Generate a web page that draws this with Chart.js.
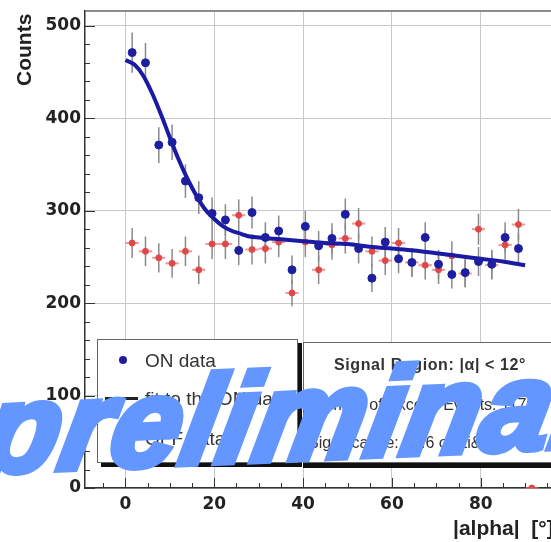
<!DOCTYPE html>
<html lang="en">
<head>
    <meta charset="UTF-8">
    <title>alpha plot</title>
    <script src="https://cdn.jsdelivr.net/npm/chart.js@4.4.1/dist/chart.umd.min.js"></script>
    <style>
        body {
            margin: 0;
            background: white;
            font-family: "Liberation Sans", Arial, sans-serif;
        }

        .wrap {
            position: relative;
            width: 551px;
            height: 542px;
            overflow: hidden;
        }

        canvas { position: absolute; left: 0; top: 0; }

        .axis-title {
            position: absolute;
            font: bold 21px "Liberation Sans", Arial, sans-serif;
            line-height: 21px;
            color: #222;
            white-space: nowrap;
        }

        .box {
            position: absolute;
            background: white;
            border: 1px solid #666;
            color: #333;
            white-space: nowrap;
        }

        .row {
            position: absolute;
            font: 19px "Liberation Sans", Arial, sans-serif;
            line-height: 19px;
        }

        .prelim {
            position: absolute;
            left: -22px;
            top: 368px;
            font: bold italic 124px "Liberation Sans", Arial, sans-serif;
            line-height: 124px;
            letter-spacing: 2px;
            color: rgb(99, 150, 255);
            -webkit-text-stroke: 7px rgb(99, 150, 255);
            white-space: nowrap;
            transform-origin: 0 105px;
            transform: rotate(-2.5deg) skewX(-13deg);
        }
    </style>
</head>
<body>
<div class="wrap">
    <!-- canvas a bit wider than the window: the plot frame runs off the right edge -->
    <canvas id="alphaChart" width="556" height="542"></canvas>

    <div class="axis-title" style="left:0;top:0;transform-origin:0 0;transform:translate(13px,86px) rotate(-90deg);">Counts</div>
    <div class="axis-title" style="left:453px;top:517px;">|alpha|&nbsp;&nbsp;[°]</div>

    <div class="box" style="left:97px;top:339px;width:199px;height:122px;box-shadow:4px 4px 0 #111;">
        <div style="position:absolute;left:21px;top:16px;width:8px;height:8px;border-radius:50%;background:#1e1ea0;"></div>
        <div class="row" style="left:47px;top:11px;">ON data</div>
        <div style="position:absolute;left:7px;top:57px;width:33px;height:3px;background:#222;"></div>
        <div class="row" style="left:47px;top:49px;">fit to the ON data</div>
        <div style="position:absolute;left:22px;top:94px;width:7px;height:7px;border-radius:50%;background:#e04848;"></div>
        <div class="row" style="left:47px;top:89px;">OFF data</div>
    </div>

    <div class="box" style="left:303px;top:342px;width:270px;height:119px;box-shadow:0 5px 0 #111;">
        <div class="row" style="left:30px;top:12px;font-weight:bold;font-size:16px;letter-spacing:0.6px;">Signal Region: |α| &lt; 12°</div>
        <div class="row" style="left:4px;top:52px;font-size:16px;">Number of Excess Events: 1170 ± 95</div>
        <div class="row" style="left:4px;top:90px;font-size:16px;">Significance: 12.6 σ (Li&amp;Ma)</div>
    </div>

    <div class="prelim">preliminary</div>
</div>

<script>
    // bin centres of |alpha| [deg]
    const alphaBins = [1.5, 4.5, 7.5, 10.5, 13.5, 16.5, 19.5, 22.5, 25.5, 28.5,
                       31.5, 34.5, 37.5, 40.5, 43.5, 46.5, 49.5, 52.5, 55.5, 58.5,
                       61.5, 64.5, 67.5, 70.5, 73.5, 76.5, 79.5, 82.5, 85.5, 88.5, 91.5];

    const onCounts = [471, 460, 371, 374, 332, 314, 297, 290, 257, 298,
                      271, 278, 236, 283, 262, 270, 296, 259, 227, 266,
                      248, 244, 271, 242, 231, 233, 245, 242, 271, 259];
    const onErrors = [21.7, 21.4, 19.3, 19.3, 18.2, 17.7, 17.2, 17.0, 16.0, 17.3,
                      16.5, 16.7, 15.4, 16.8, 16.2, 16.4, 17.2, 16.1, 15.1, 16.3,
                      15.7, 15.6, 16.5, 15.6, 15.2, 15.3, 15.7, 15.6, 16.5, 16.1];

    const offCounts = [265, 256, 249, 243, 256, 236, 264, 264, 295, 258,
                       259, 266, 211, 266, 236, 263, 270, 286, 256, 246,
                       265, 244, 241, 236, 251, 232, 280, 241, 263, 285, 0];
    const offErrors = [16.3, 16.0, 15.8, 15.6, 16.0, 15.4, 16.2, 16.2, 17.2, 16.1,
                       16.1, 16.3, 14.5, 16.3, 15.4, 16.2, 16.4, 16.9, 16.0, 15.7,
                       16.3, 15.6, 15.5, 15.4, 15.8, 15.2, 16.7, 15.5, 16.2, 16.9, 1.0];

    // fit curve
    const fitAlpha = [0, 2, 4, 6, 8, 10, 12, 14, 16, 18, 20, 22, 24, 26, 28, 30,
                      35, 40, 45, 50, 55, 60, 65, 70, 75, 80, 85, 90];
    const fitCounts = [463, 458, 446, 427, 404, 379, 355, 334, 316, 301, 291, 283, 278, 275, 272, 271,
                       269, 267, 265, 264, 261, 259, 257, 254, 251, 248, 245, 241];

    const xTickVals = [0, 20, 40, 60, 80];
    const yTickVals = [0, 100, 200, 300, 400, 500];

    const halfBin = 1.5;
    const blue = '#1e1ea0';
    const red = '#e04848';

    function toPoints(xs, ys) {
        return ys.map((y, i) => ({ x: xs[i], y: y }));
    }

    // vertical (and horizontal) error bars, under the markers
    const errorBars = {
        id: 'errorBars',
        beforeDatasetsDraw(chart) {
            const ctx = chart.ctx;
            const xs = chart.scales.x, ys = chart.scales.y;
            const area = chart.chartArea;
            ctx.save();
            ctx.beginPath();
            ctx.rect(area.left, area.top, area.right - area.left, area.bottom - area.top + 2);
            ctx.clip();

            function draw(counts, errs, hColor) {
                counts.forEach((c, i) => {
                    const px = xs.getPixelForValue(alphaBins[i]);
                    ctx.strokeStyle = '#8a8a8a';
                    ctx.lineWidth = 1.5;
                    ctx.beginPath();
                    ctx.moveTo(px, ys.getPixelForValue(c - errs[i]));
                    ctx.lineTo(px, ys.getPixelForValue(c + errs[i]));
                    ctx.stroke();
                    if (hColor) {
                        const py = ys.getPixelForValue(c);
                        ctx.strokeStyle = hColor;
                        ctx.lineWidth = 2;
                        ctx.beginPath();
                        ctx.moveTo(xs.getPixelForValue(alphaBins[i] - halfBin), py);
                        ctx.lineTo(xs.getPixelForValue(alphaBins[i] + halfBin), py);
                        ctx.stroke();
                    }
                });
            }
            draw(offCounts, offErrors, 'rgba(230,110,110,0.7)');
            draw(onCounts, onErrors, null);
            ctx.restore();
        }
    };

    // inward ticks (major + minor) and the top frame line
    const frame = {
        id: 'frame',
        beforeDatasetsDraw(chart) {
            const ctx = chart.ctx;
            const xs = chart.scales.x, ys = chart.scales.y;
            const a = chart.chartArea;
            ctx.save();
            ctx.strokeStyle = '#333';
            ctx.lineWidth = 1;
            ctx.beginPath();
            for (let v = 0; v <= 500; v += 20) {
                const py = Math.round(ys.getPixelForValue(v)) + 0.5;
                const len = v % 100 === 0 ? 10 : 5;
                ctx.moveTo(a.left, py);
                ctx.lineTo(a.left + len, py);
            }
            for (let v = -5; v <= 95; v += 5) {
                const px = Math.round(xs.getPixelForValue(v)) + 0.5;
                const len = v % 20 === 0 ? 10 : 5;
                ctx.moveTo(px, a.bottom);
                ctx.lineTo(px, a.bottom - len);
            }
            ctx.stroke();
            ctx.strokeStyle = '#666';
            ctx.lineWidth = 1.5;
            ctx.beginPath();
            ctx.moveTo(a.left, a.top);
            ctx.lineTo(a.right, a.top);
            ctx.stroke();
            ctx.restore();
        }
    };

    const tickFont = { family: 'DejaVu Sans', size: 17, weight: 'bold' };

    new Chart(document.getElementById('alphaChart'), {
        type: 'scatter',
        data: {
            datasets: [
                {
                    label: 'ON data',
                    data: toPoints(alphaBins, onCounts),
                    backgroundColor: blue,
                    borderColor: blue,
                    pointRadius: 4,
                    order: 1
                },
                {
                    label: 'fit to the ON data',
                    type: 'line',
                    data: toPoints(fitAlpha, fitCounts),
                    borderColor: '#1a1aa5',
                    borderWidth: 4,
                    pointRadius: 0,
                    fill: false,
                    cubicInterpolationMode: 'monotone',
                    order: 2
                },
                {
                    label: 'OFF data',
                    data: toPoints(alphaBins, offCounts),
                    backgroundColor: red,
                    borderColor: red,
                    pointRadius: 3,
                    order: 3
                }
            ]
        },
        options: {
            responsive: false,
            animation: false,
            devicePixelRatio: 1,
            layout: { padding: { top: 11, right: 0, left: 0, bottom: 0 } },
            plugins: {
                legend: { display: false },
                tooltip: { enabled: false }
            },
            scales: {
                x: {
                    type: 'linear',
                    min: -9.12,
                    max: 95.83,
                    afterBuildTicks: s => { s.ticks = xTickVals.map(v => ({ value: v })); },
                    afterFit: s => { s.height = 54; s.paddingLeft = 0; s.paddingRight = 0; },
                    grid: { color: '#c8c8c8', drawTicks: false },
                    border: { color: '#333', width: 1.5 },
                    ticks: { font: tickFont, color: '#222', padding: 6, maxRotation: 0 }
                },
                y: {
                    min: 0,
                    max: 516,
                    afterBuildTicks: s => { s.ticks = yTickVals.map(v => ({ value: v })); },
                    afterFit: s => { s.width = 85; s.paddingTop = 0; s.paddingBottom = 0; },
                    grid: { color: '#c8c8c8', drawTicks: false },
                    border: { color: '#333', width: 1.5 },
                    ticks: { font: tickFont, color: '#222', padding: 4 }
                }
            }
        },
        plugins: [errorBars, frame]
    });
</script>
</body>
</html>
